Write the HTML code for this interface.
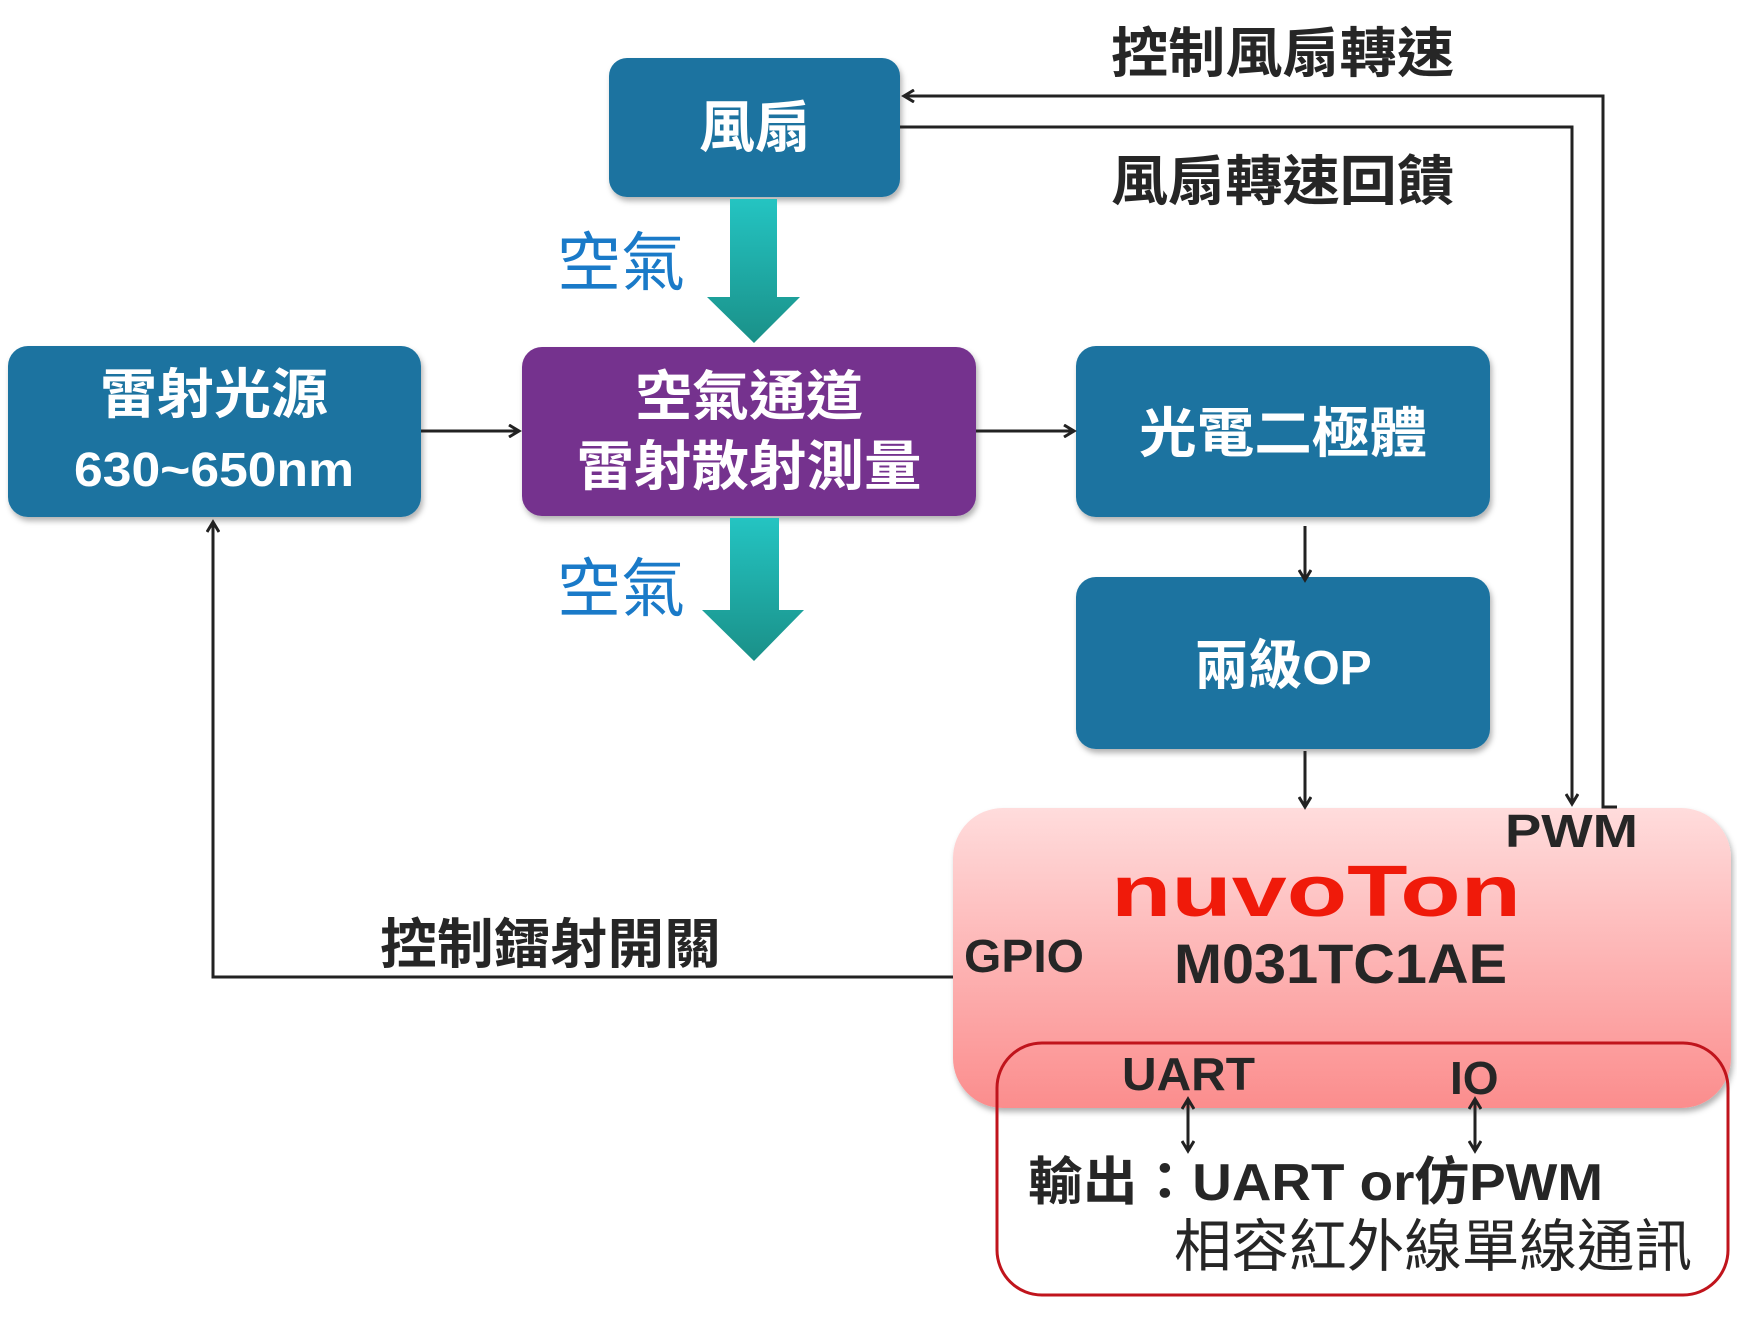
<!DOCTYPE html>
<html><head><meta charset="utf-8"><style>
html,body{margin:0;padding:0;background:#fff;}
svg{display:block;}
text{font-family:"Liberation Sans","Noto Sans CJK TC",sans-serif;}
</style></head><body>
<svg width="1737" height="1319" viewBox="0 0 1737 1319" xmlns="http://www.w3.org/2000/svg">
<defs>
<linearGradient id="teal" x1="0" y1="0" x2="0" y2="1"><stop offset="0" stop-color="#24c4c2"/><stop offset="1" stop-color="#1a9088"/></linearGradient>
<linearGradient id="pink" x1="0" y1="0" x2="0" y2="1"><stop offset="0" stop-color="#ffdcdc"/><stop offset="1" stop-color="#fb8d8d"/></linearGradient>
<filter id="sh" x="-5%" y="-5%" width="110%" height="115%"><feDropShadow dx="2" dy="4" stdDeviation="3" flood-color="#000" flood-opacity="0.3"/></filter>
<marker id="ah" markerWidth="14" markerHeight="14" refX="11" refY="7" orient="auto" markerUnits="userSpaceOnUse"><path d="M1,1 L11,7 L1,13" fill="none" stroke="#222" stroke-width="3"/></marker>
</defs>

<rect x="609" y="58" width="291" height="139" rx="18" fill="#1a73a0" filter="url(#sh)"/>
<rect x="8" y="346" width="413" height="171" rx="20" fill="#1a73a0" filter="url(#sh)"/>
<rect x="522" y="347" width="454" height="169" rx="20" fill="#74318e" filter="url(#sh)"/>
<rect x="1076" y="346" width="414" height="171" rx="20" fill="#1a73a0" filter="url(#sh)"/>
<rect x="1076" y="577" width="414" height="172" rx="20" fill="#1a73a0" filter="url(#sh)"/>
<rect x="953" y="808" width="778" height="300" rx="50" fill="url(#pink)" filter="url(#sh)"/>
<rect x="997" y="1043" width="731" height="252" rx="45" fill="none" stroke="#c0141c" stroke-width="3"/>

<path d="M730,199 H777 V297 H800 L754,343 L707,297 H730 Z" fill="url(#teal)"/>
<path d="M730,518 H779 V610 H804 L754,661 L702,610 H730 Z" fill="url(#teal)"/>

<g stroke="#222" stroke-width="3" fill="none">
<polyline points="1617,807 1603,807 1603,96 904,96" marker-end="url(#ah)"/>
<polyline points="900,127 1572,127 1572,804" marker-end="url(#ah)"/>
<line x1="421" y1="431" x2="519" y2="431" marker-end="url(#ah)"/>
<line x1="976" y1="431" x2="1074" y2="431" marker-end="url(#ah)"/>
<line x1="1305" y1="526" x2="1305" y2="580" marker-end="url(#ah)"/>
<line x1="1305" y1="751" x2="1305" y2="807" marker-end="url(#ah)"/>
<polyline points="953,977 213,977 213,522" marker-end="url(#ah)"/>
<line x1="1188" y1="1099" x2="1188" y2="1151" marker-end="url(#ah)"/>
<line x1="1188" y1="1151" x2="1188" y2="1099" marker-end="url(#ah)"/>
<line x1="1475" y1="1099" x2="1475" y2="1151" marker-end="url(#ah)"/>
<line x1="1475" y1="1151" x2="1475" y2="1099" marker-end="url(#ah)"/>
</g>

<g fill="#fff" font-weight="bold" text-anchor="middle">
<text x="755" y="147" font-size="56">風扇</text>
<text x="214" y="413" font-size="54" textLength="228" lengthAdjust="spacingAndGlyphs">雷射光源</text>
<text x="214" y="486" font-size="48" textLength="280" lengthAdjust="spacingAndGlyphs">630~650nm</text>
<text x="749" y="415" font-size="54" textLength="228" lengthAdjust="spacingAndGlyphs">空氣通道</text>
<text x="749" y="485" font-size="54" textLength="345" lengthAdjust="spacingAndGlyphs">雷射散射測量</text>
<text x="1283" y="452" font-size="54" textLength="288" lengthAdjust="spacingAndGlyphs">光電二極體</text>
<text x="1283" y="684" font-size="54">兩級<tspan font-size="48">OP</tspan></text>
</g>

<g fill="#1a7ac8" font-size="64">
<text x="557" y="285">空氣</text>
<text x="557" y="611">空氣</text>
</g>
<g fill="#262626" font-weight="bold" font-size="54">
<text x="1111" y="72" textLength="343" lengthAdjust="spacingAndGlyphs">控制風扇轉速</text>
<text x="1111" y="200" textLength="343" lengthAdjust="spacingAndGlyphs">風扇轉速回饋</text>
<text x="380" y="963" textLength="341" lengthAdjust="spacingAndGlyphs">控制鐳射開關</text>
</g>
<g fill="#262626" font-weight="bold">
<text x="1505" y="847" font-size="46" textLength="133" lengthAdjust="spacingAndGlyphs">PWM</text>
<text x="964" y="972" font-size="46" textLength="120" lengthAdjust="spacingAndGlyphs">GPIO</text>
<text x="1174" y="983" font-size="56" textLength="333" lengthAdjust="spacingAndGlyphs">M031TC1AE</text>
<text x="1122" y="1090" font-size="46" textLength="133" lengthAdjust="spacingAndGlyphs">UART</text>
<text x="1450" y="1094" font-size="46">IO</text>
<text x="1028" y="1200" font-size="52" textLength="575" lengthAdjust="spacingAndGlyphs">輸出：UART  or仿PWM</text>
</g>
<text x="1111" y="916" font-size="72" font-weight="bold" fill="#f01a0a" textLength="410" lengthAdjust="spacingAndGlyphs">nuvoTon</text>
<text x="1174" y="1266" font-size="57" fill="#262626" textLength="518" lengthAdjust="spacingAndGlyphs">相容紅外線單線通訊</text>
</svg>
</body></html>
